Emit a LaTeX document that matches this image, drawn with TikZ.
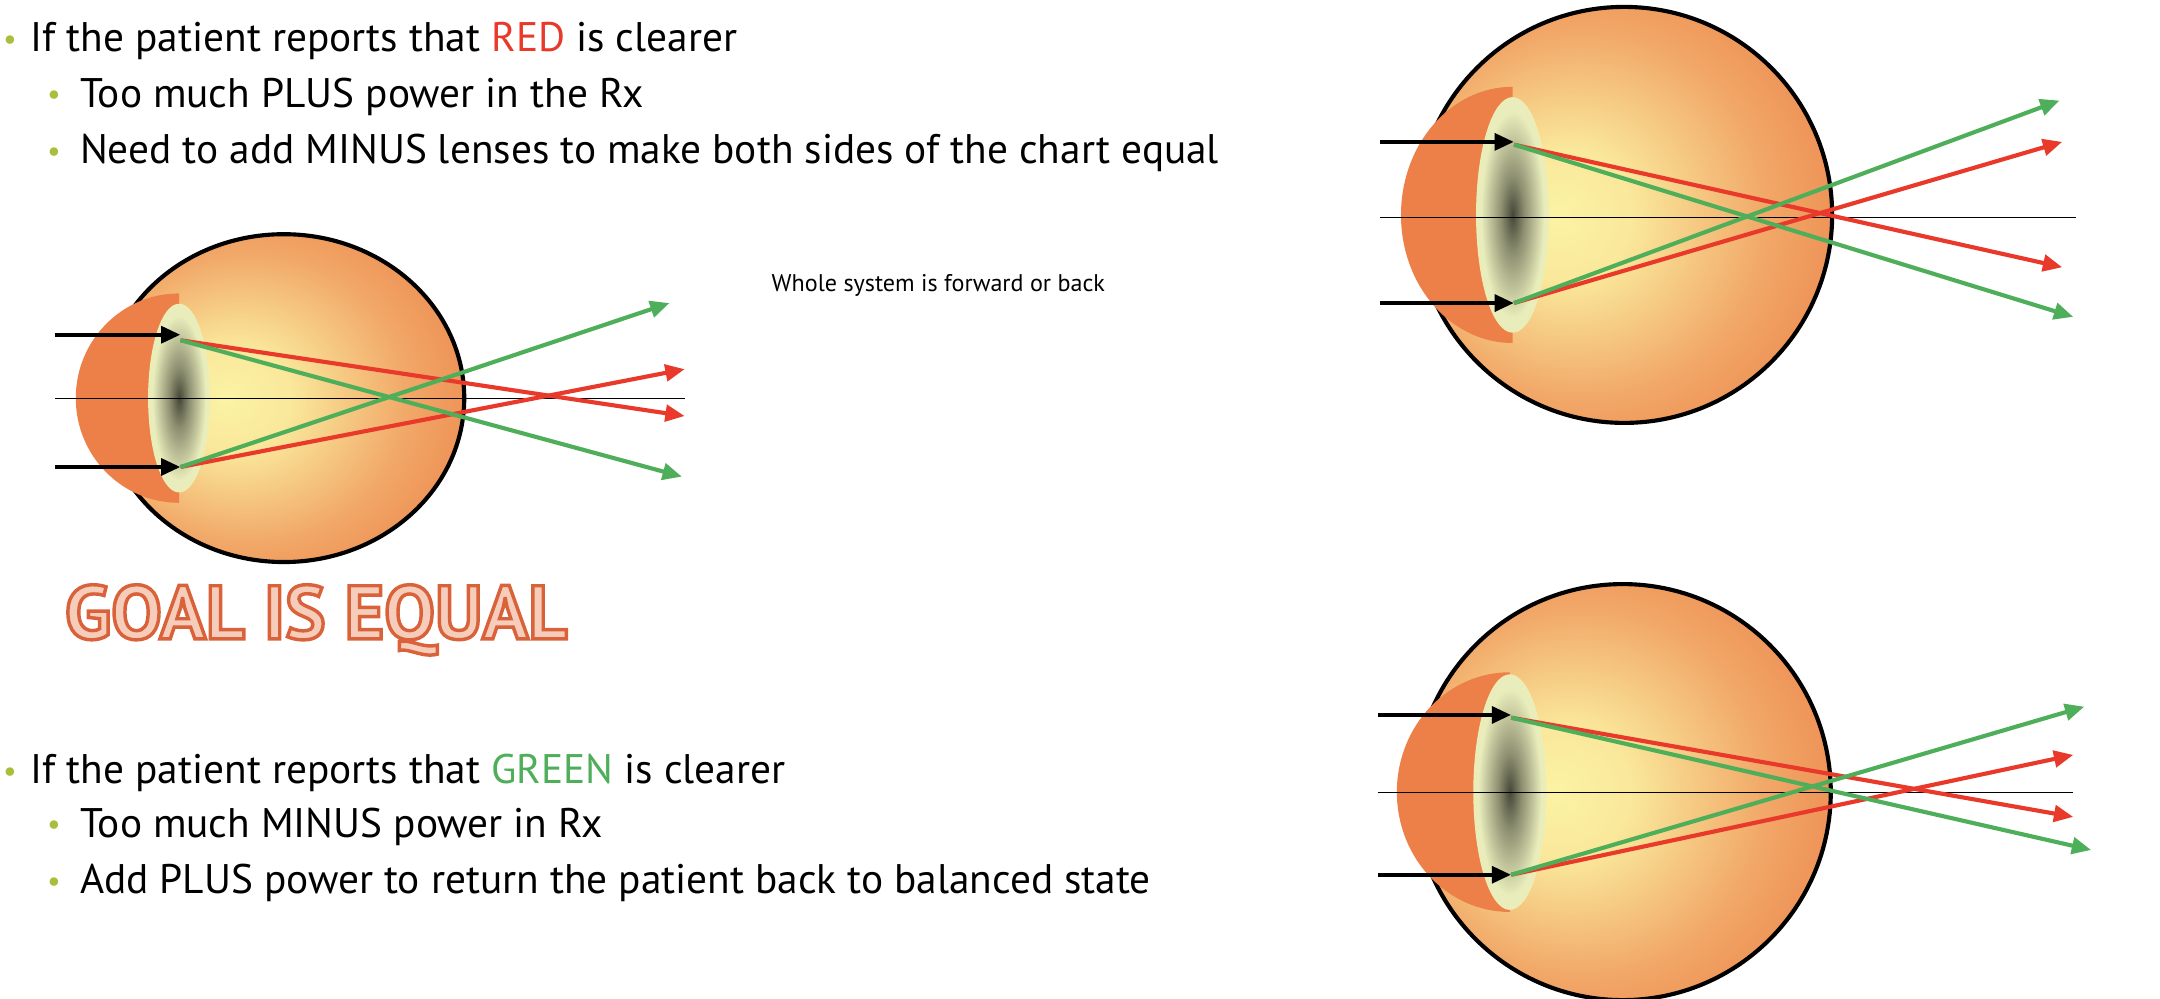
\documentclass[tikz,border=0pt]{standalone}
\usepackage{fontspec}
\setmainfont{PT Sans}
\usetikzlibrary{arrows.meta}
\definecolor{eyeor}{HTML}{EC8048}
\definecolor{eyeyel}{HTML}{FBF3A4}
\definecolor{lensY}{HTML}{E9EDBB}
\definecolor{rayR}{HTML}{E8392A}
\definecolor{rayG}{HTML}{4FAE5A}
\definecolor{bul}{HTML}{A7BF3B}
\definecolor{goalO}{HTML}{D9623A}
\definecolor{goalF}{HTML}{F5CDBA}
\pgfdeclareradialshading{eyesh}{\pgfpoint{-8bp}{0bp}}{color(0bp)=(eyeyel); color(8bp)=(eyeyel!90!eyeor); color(22bp)=(eyeyel!35!eyeor); color(36bp)=(eyeor); color(60bp)=(eyeor)}
\pgfdeclareradialshading{lenssh}{\pgfpoint{0bp}{0bp}}{color(0bp)=(black!70!lensY); color(8bp)=(black!40!lensY); color(22bp)=(lensY); color(60bp)=(lensY)}
\newcommand\outlinedtext[1]{{\color{goalF}\special{pdf:literal direct 2 Tr 2.5 w 0.851 0.384 0.227 RG}#1\special{pdf:literal direct 0 Tr 1 w}}}
\tikzset{
  txt/.style={anchor=west,inner sep=0pt,font=\fontsize{30}{33}\selectfont},
  bl/.style={anchor=west,inner sep=0pt,text=bul,font=\fontsize{22}{24}\selectfont},
  inray/.style={line width=3.2pt,-{Triangle[length=14pt,width=12pt]}},
  ray/.style={line width=3pt,-{Triangle[length=14pt,width=12pt]}},
  axisl/.style={line width=0.8pt},
}
% name, cx, cy, rx, ry, corneaLeft, corneaHalfH, lensX, lensRx, lensRy
\newcommand\myEye[9]{%
  \shade[shading=eyesh, draw=black, line width=3pt] (#1,#2) ellipse[x radius=#3, y radius=#4];
  \begin{scope}
    \clip (#5-5,#2-#6-5) rectangle (#7,#2+#6+5);
    \fill[eyeor] (#7,#2) ellipse[x radius={#7-#5}, y radius=#6];
  \end{scope}
  \shade[shading=lenssh, draw=lensY!80!eyeyel, line width=1pt] (#7,#2) ellipse[x radius=#8, y radius=#9];
}
\begin{document}
\begin{tikzpicture}[x=1pt,y=-1pt]
\useasboundingbox (0,0) rectangle (1568,725);
% texts
\node[bl] (b1) at (2,31) {\textbullet};
\node[txt] (t1) at (22,30) {If the patient reports that \textcolor{rayR}{RED} is clearer};
\node[bl] (b2) at (34,71) {\textbullet};
\node[txt] (t2) at (58,70) {Too much PLUS power in the Rx};
\node[bl] (b3) at (34,112) {\textbullet};
\node[txt] (t3) at (58,111) {Need to add MINUS lenses to make both sides of the chart equal};
\node[anchor=west,inner sep=0pt,font=\fontsize{17.5}{19}\selectfont] (ws) at (560,207) {Whole system is forward or back};
\node[bl] (b4) at (2,562) {\textbullet};
\node[txt] (t4) at (22,561) {If the patient reports that \textcolor{rayG}{GREEN} is clearer};
\node[bl] (b5) at (34,601) {\textbullet};
\node[txt] (t5) at (58,600) {Too much MINUS power in Rx};
\node[bl] (b6) at (34,642) {\textbullet};
\node[txt] (t6) at (58,641) {Add PLUS power to return the patient back to balanced state};
\node[anchor=west,inner sep=0pt,font=\fontsize{55}{58}\bfseries\selectfont] (goal) at (47,450) {\outlinedtext{GOAL IS EQUAL}};

% ---------- left eye
\myEye{206}{289}{131}{119}{55}{76}{130}{22}{68}
\coordinate (La1) at (40,243); \coordinate (La2) at (40,339);
\coordinate (Lp) at (131,247); \coordinate (Lq) at (131,339);
\draw[inray] (La1) -- (Lp |- La1);
\draw[inray] (La2) -- (Lq);
\coordinate (Lx1) at (40,289); \coordinate (Lx2) at (497,289);
\draw[axisl] (Lx1) -- (Lx2);
\coordinate (Lr1) at (497,302); \coordinate (Lr2) at (497,268);
\coordinate (Lg1) at (495,346); \coordinate (Lg2) at (486,220);
\draw[ray,rayR] (Lp) -- (Lr1);
\draw[ray,rayR] (Lq) -- (Lr2);
\draw[ray,rayG] (Lp) -- (Lg1);
\draw[ray,rayG] (Lq) -- (Lg2);

% ---------- right top eye
\myEye{1179}{156}{151}{151}{1017}{93}{1098}{26}{85}
\coordinate (Ta1) at (1002,103); \coordinate (Ta2) at (1002,220);
\coordinate (Tp) at (1099,105); \coordinate (Tq) at (1099,220);
\draw[inray] (Ta1) -- (Tp |- Ta1);
\draw[inray] (Ta2) -- (Tq);
\coordinate (Tx1) at (1002,158); \coordinate (Tx2) at (1507,158);
\draw[axisl] (Tx1) -- (Tx2);
\coordinate (Tr1) at (1497,194); \coordinate (Tr2) at (1497,103);
\coordinate (Tg1) at (1505,230); \coordinate (Tg2) at (1495,73);
\draw[ray,rayR] (Tp) -- (Tr1);
\draw[ray,rayR] (Tq) -- (Tr2);
\draw[ray,rayG] (Tp) -- (Tg1);
\draw[ray,rayG] (Tq) -- (Tg2);

% ---------- right bottom eye
\myEye{1178}{575}{151}{151}{1014}{87}{1096}{26}{85}
\coordinate (Ba1) at (1000,519); \coordinate (Ba2) at (1000,635);
\coordinate (Bp) at (1097,521); \coordinate (Bq) at (1097,635);
\draw[inray] (Ba1) -- (Bp |- Ba1);
\draw[inray] (Ba2) -- (Bq);
\coordinate (Bx1) at (1000,575); \coordinate (Bx2) at (1505,575);
\draw[axisl] (Bx1) -- (Bx2);
\coordinate (Br1) at (1505,593); \coordinate (Br2) at (1505,548);
\coordinate (Bg1) at (1518,617); \coordinate (Bg2) at (1513,513);
\draw[ray,rayR] (Bp) -- (Br1);
\draw[ray,rayR] (Bq) -- (Br2);
\draw[ray,rayG] (Bp) -- (Bg1);
\draw[ray,rayG] (Bq) -- (Bg2);
\end{tikzpicture}
\end{document}
